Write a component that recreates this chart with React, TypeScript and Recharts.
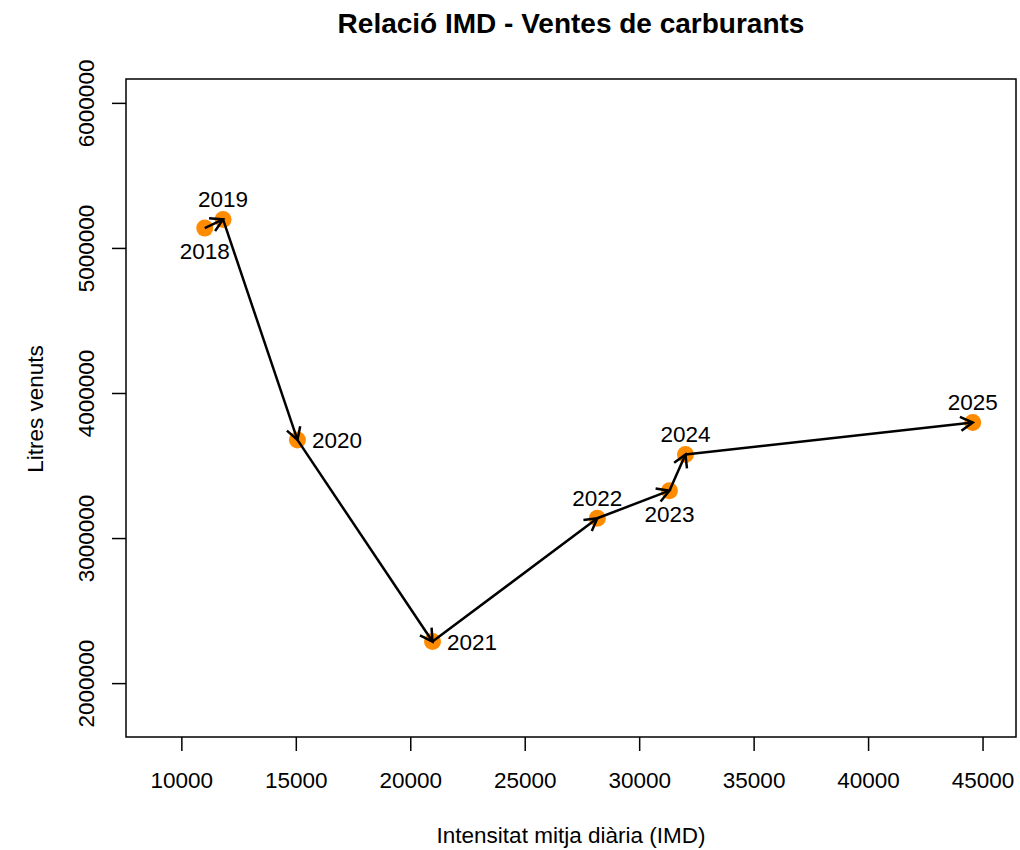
import React from 'react';
import { ScatterChart, Scatter, XAxis, YAxis, ReferenceLine, ReferenceArea } from 'recharts';

// Data
const years = ['2018', '2019', '2020', '2021', '2022', '2023', '2024', '2025'];
const imd = [11000, 11800, 15050, 20950, 28150, 31300, 32000, 44550];
const litres = [5140000, 5200000, 3680000, 2290000, 3140000, 3330000, 3580000, 3800000];
const labelPos = ['below', 'above', 'right', 'right', 'above', 'below', 'above', 'above'];

const xTicks = [10000, 15000, 20000, 25000, 30000, 35000, 40000, 45000];
const yTicks = [2000000, 3000000, 4000000, 5000000, 6000000];

const X_DOMAIN: [number, number] = [7560, 46440];
const Y_DOMAIN: [number, number] = [1632000, 6168000];

const FONT = '"Liberation Sans", Arial, Helvetica, sans-serif';
const FS = 22.5;
const ORANGE = '#FF8C00';

const data = years.map((year, i) => ({ year, x: imd[i], y: litres[i], pos: labelPos[i] }));

const PointShape = (props: any) => {
  const { cx, cy, payload } = props;
  let tx = cx;
  let ty = cy;
  let anchor = 'middle';
  if (payload.pos === 'below') ty = cy + 31;
  else if (payload.pos === 'above') ty = cy - 12.5;
  else {
    tx = cx + 14.5;
    ty = cy + 8;
    anchor = 'start';
  }
  return (
    <g>
      <circle cx={cx} cy={cy} r={8.5} fill={ORANGE} />
      <text x={tx} y={ty} textAnchor={anchor} fontSize={FS} fontFamily={FONT} fill="#000">
        {payload.year}
      </text>
    </g>
  );
};

// line with an open arrow head at the end, like R's arrows()
const ArrowShape = (props: any) => {
  const { x1, y1, x2, y2 } = props;
  const ang = Math.atan2(y2 - y1, x2 - x1);
  const len = 14;
  const a = Math.PI / 6;
  const hx1 = x2 - len * Math.cos(ang - a);
  const hy1 = y2 - len * Math.sin(ang - a);
  const hx2 = x2 - len * Math.cos(ang + a);
  const hy2 = y2 - len * Math.sin(ang + a);
  return (
    <g>
      <line x1={x1} y1={y1} x2={x2} y2={y2} stroke="#000" strokeWidth={2.5} />
      <path
        d={`M${hx1},${hy1} L${x2},${y2} L${hx2},${hy2}`}
        fill="none"
        stroke="#000"
        strokeWidth={2.5}
      />
    </g>
  );
};

const YTick = (props: any) => {
  const { x, y, payload } = props;
  return (
    <text
      x={x}
      y={y}
      transform={`rotate(-90, ${x}, ${y})`}
      textAnchor="middle"
      fontSize={FS}
      fontFamily={FONT}
      fill="#000"
    >
      {payload.value}
    </text>
  );
};

export default function App() {
  return (
    <div style={{ position: 'absolute', left: 0, top: 0, width: 1020, height: 850, background: '#fff' }}>
      <ScatterChart width={1020} height={850} margin={{ top: 79, right: 4, bottom: 0, left: 0 }}>
        <XAxis
          type="number"
          dataKey="x"
          domain={X_DOMAIN}
          ticks={xTicks}
          allowDataOverflow
          axisLine={false}
          tickSize={14}
          tickMargin={21}
          tickLine={{ stroke: '#000', strokeWidth: 1.5 }}
          tick={{ fontSize: FS, fill: '#000', fontFamily: FONT }}
          height={113}
        />
        <YAxis
          type="number"
          dataKey="y"
          domain={Y_DOMAIN}
          ticks={yTicks}
          allowDataOverflow
          axisLine={false}
          tickSize={14}
          tickMargin={18}
          tickLine={{ stroke: '#000', strokeWidth: 1.5 }}
          tick={<YTick />}
          width={126}
        />
        <ReferenceArea
          x1={X_DOMAIN[0]}
          x2={X_DOMAIN[1]}
          y1={Y_DOMAIN[0]}
          y2={Y_DOMAIN[1]}
          fill="none"
          fillOpacity={0}
          stroke="#000"
          strokeWidth={1.5}
          ifOverflow="visible"
        />
        <Scatter data={data} shape={<PointShape />} isAnimationActive={false} zIndex={400} />
        {data.slice(1).map((d, i) => (
          <ReferenceLine
            key={d.year}
            segment={[
              { x: data[i].x, y: data[i].y },
              { x: d.x, y: d.y },
            ]}
            shape={<ArrowShape />}
            ifOverflow="visible"
            zIndex={1000}
          />
        ))}
      </ScatterChart>
      <svg
        width={1020}
        height={850}
        style={{ position: 'absolute', left: 0, top: 0, pointerEvents: 'none' }}
      >
        <text x={571} y={33} textAnchor="middle" fontSize={28} fontWeight="bold" fontFamily={FONT} fill="#000">
          Relació IMD - Ventes de carburants
        </text>
        <text x={571} y={843} textAnchor="middle" fontSize={FS} fontFamily={FONT} fill="#000">
          Intensitat mitja diària (IMD)
        </text>
        <text
          x={43}
          y={409}
          transform="rotate(-90, 43, 409)"
          textAnchor="middle"
          fontSize={FS}
          fontFamily={FONT}
          fill="#000"
        >
          Litres venuts
        </text>
      </svg>
    </div>
  );
}
